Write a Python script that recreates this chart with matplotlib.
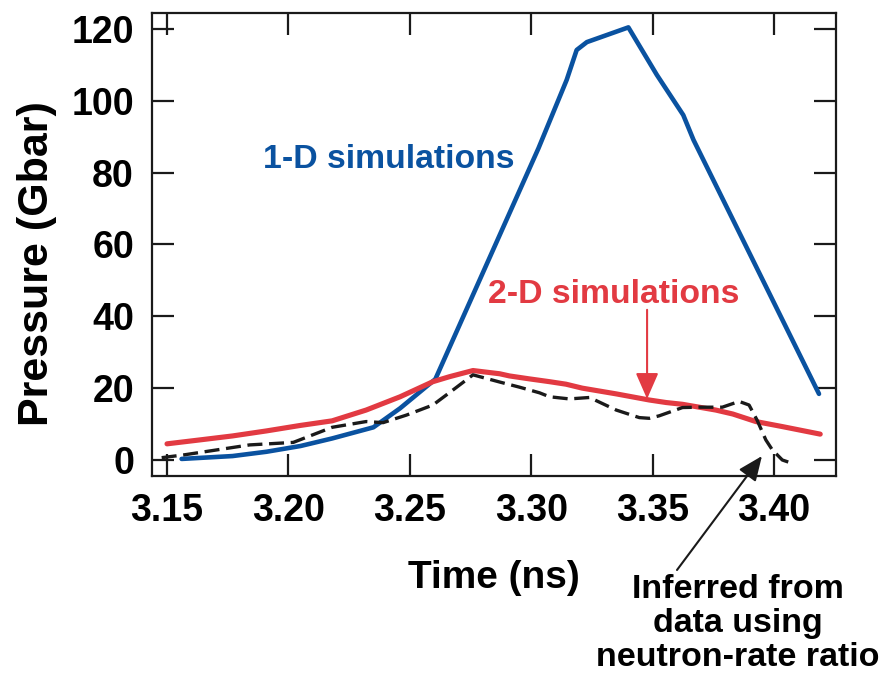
import matplotlib
matplotlib.use("Agg")
import matplotlib.pyplot as plt

plt.rcParams['font.family'] = ['Liberation Sans', 'DejaVu Sans']
plt.rcParams['font.weight'] = 'bold'

BLUE = '#0A52A0'
RED = '#E23A42'

# 1-D simulations
t_1d = [3.156, 3.177, 3.191, 3.205, 3.218, 3.235, 3.246, 3.2605, 3.3030, 3.3146,
        3.3187, 3.3229, 3.3400, 3.3517, 3.3626, 3.3668, 3.4185]
p_1d = [0.3, 1.1, 2.3, 3.9, 6.0, 9.1, 14.4, 22.5, 86.8, 105.8,
        114.1, 116.3, 120.4, 107.2, 96.0, 89.1, 18.4]

# 2-D simulations
t_2d = [3.150, 3.1636, 3.177, 3.191, 3.2047, 3.218, 3.232, 3.246, 3.2595, 3.2664,
        3.276, 3.287, 3.291, 3.299, 3.3075, 3.3143, 3.321, 3.335, 3.3486, 3.3555,
        3.3623, 3.376, 3.383, 3.3925, 3.4034, 3.419]
p_2d = [4.5, 5.6, 6.7, 8.1, 9.6, 10.9, 13.9, 17.6, 21.8, 23.2,
        24.9, 24.0, 23.4, 22.6, 21.8, 21.1, 20.0, 18.4, 16.7, 16.0,
        15.5, 13.9, 12.8, 10.7, 9.3, 7.2]

# inferred from data (neutron-rate ratio)
t_inf = [3.1478, 3.1567, 3.1704, 3.184, 3.202, 3.218, 3.232, 3.239, 3.2486, 3.2595,
         3.2678, 3.276, 3.287, 3.295, 3.3034, 3.3075, 3.3157, 3.324, 3.335, 3.3445,
         3.3486, 3.3527, 3.3623, 3.369, 3.3787, 3.3856, 3.3897, 3.393, 3.3966, 3.3993,
         3.4034, 3.406]
p_inf = [0.65, 1.4, 2.8, 4.2, 4.9, 9.1, 10.7, 10.4, 12.5, 15.3,
         19.5, 23.7, 21.7, 20.3, 18.7, 17.6, 17.0, 17.4, 13.9, 11.8,
         11.6, 12.3, 14.6, 14.7, 14.7, 16.3, 15.3, 11.1, 5.6, 2.8,
         0.0, -0.6]

xticks = [3.15, 3.20, 3.25, 3.30, 3.35, 3.40]
xticklabels = ['3.15', '3.20', '3.25', '3.30', '3.35', '3.40']
yticks = [0, 20, 40, 60, 80, 100, 120]

fig = plt.figure(figsize=(8.84, 6.84), dpi=100)
ax = fig.add_axes([0.1719, 0.3041, 0.9457 - 0.1719, 0.981 - 0.3041])

ax.plot(t_1d, p_1d, color=BLUE, lw=3.3, solid_capstyle='round', solid_joinstyle='round')
ax.plot(t_2d, p_2d, color=RED, lw=3.7, solid_capstyle='round', solid_joinstyle='round')
ax.plot(t_inf, p_inf, color='#1a1a1a', lw=2.4, dashes=(4.5, 2.0))

ax.set_xlim(3.1438, 3.4255)
ax.set_ylim(-4.45, 124.4)
ax.set_xticks(xticks)
ax.set_xticklabels(xticklabels)
ax.set_yticks(yticks)

for s in ax.spines.values():
    s.set_linewidth(1.6)
    s.set_color('#1a1a1a')
ax.tick_params(direction='in', length=16, width=1.6, color='#1a1a1a',
               top=True, right=True, labelsize=27)
ax.tick_params(axis='x', pad=12)
ax.tick_params(axis='y', pad=13)

fig.text(37 / 884, 1 - 264 / 684, 'Pressure (Gbar)', rotation=90,
         ha='center', va='center', fontsize=31, fontweight='bold')
fig.text(494 / 884, 1 - 578 / 684, 'Time (ns)', ha='center', va='center',
         fontsize=28, fontweight='bold')

ax.text(3.2415, 81.3, '1-D simulations', color=BLUE, fontsize=24.3,
        fontweight='bold', ha='center', va='baseline')
ax.text(3.3338, 43.7, '2-D simulations', color=RED, fontsize=24.3,
        fontweight='bold', ha='center', va='baseline')

ax.annotate('', xy=(3.3477, 17.0), xytext=(3.3477, 41.8),
            arrowprops=dict(arrowstyle='-|>,head_length=0.8,head_width=0.35',
                            mutation_scale=20, color=RED, lw=1.5,
                            shrinkA=0, shrinkB=0))
ax.annotate('', xy=(3.395, 1.1), xytext=(677, 684 - 570), textcoords='figure pixels',
            arrowprops=dict(arrowstyle='-|>,head_length=0.75,head_width=0.32',
                            mutation_scale=20, color='#1a1a1a', lw=1.5,
                            shrinkA=0, shrinkB=0), annotation_clip=False)

fig.text(738 / 884, 1 - 574 / 684, 'Inferred from\ndata using\nneutron-rate ratio',
         ha='center', va='top', multialignment='center', fontsize=24.5,
         fontweight='bold', linespacing=1.13)

fig.savefig('out.png', dpi=100)
